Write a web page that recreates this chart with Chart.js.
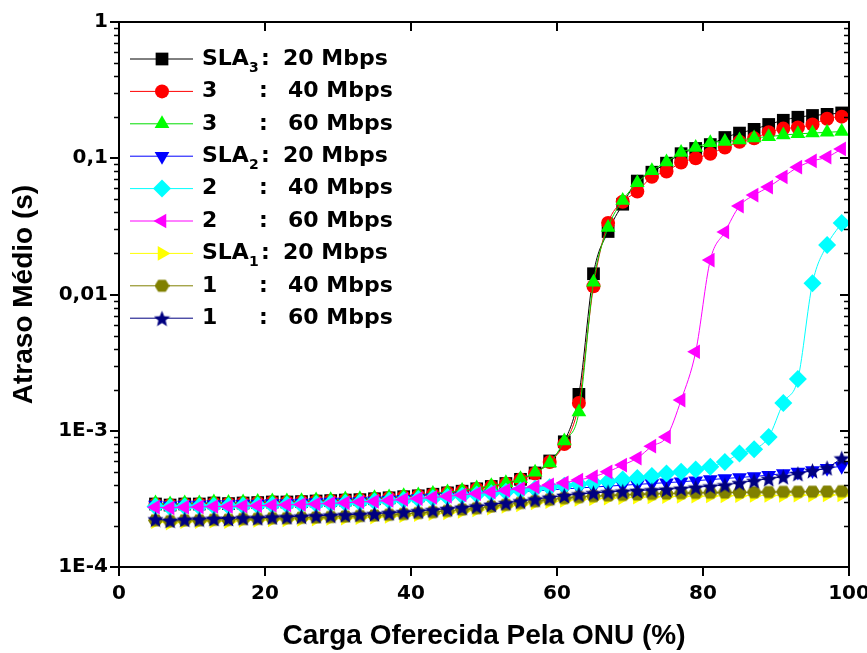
<!DOCTYPE html>
<html>
<head>
<meta charset="utf-8">
<script src="https://cdn.jsdelivr.net/npm/chart.js@4.4.1/dist/chart.umd.min.js"></script>
<style>
  html, body { margin: 0; padding: 0; background: #fff; }
</style>
</head>
<body>
<canvas id="delayChart" width="867" height="653"></canvas>
<script>
/* ---- data ---- */
const loadPct = [5, 7, 9, 11, 13, 15, 17, 19, 21, 23, 25, 27, 29, 31, 33, 35, 37, 39, 41, 43,
                 45, 47, 49, 51, 53, 55, 57, 59, 61, 63, 65, 67, 69, 71, 73, 75, 77, 79, 81, 83,
                 85, 87, 89, 91, 93, 95, 97, 99];

const slaClass = [3, 3, 3, 2, 2, 2, 1, 1, 1];
const rateMbps = [20, 40, 60, 20, 40, 60, 20, 40, 60];

const sla3_20 = [2.90e-4, 2.85e-4, 2.90e-4, 2.90e-4, 2.95e-4, 2.92e-4, 2.95e-4, 2.97e-4, 3.00e-4, 3.00e-4,
                 3.02e-4, 3.05e-4, 3.07e-4, 3.10e-4, 3.12e-4, 3.17e-4, 3.22e-4, 3.28e-4, 3.33e-4, 3.42e-4,
                 3.50e-4, 3.60e-4, 3.75e-4, 3.90e-4, 4.10e-4, 4.40e-4, 4.90e-4, 6.00e-4, 8.30e-4, 1.85e-3,
                 0.0142, 0.029, 0.046, 0.068, 0.079, 0.092, 0.108, 0.118, 0.126, 0.142,
                 0.153, 0.163, 0.177, 0.190, 0.200, 0.206, 0.210, 0.215];
const sla3_40 = [2.88e-4, 2.84e-4, 2.88e-4, 2.89e-4, 2.93e-4, 2.91e-4, 2.94e-4, 2.96e-4, 2.99e-4, 2.99e-4,
                 3.01e-4, 3.04e-4, 3.06e-4, 3.09e-4, 3.11e-4, 3.16e-4, 3.21e-4, 3.27e-4, 3.32e-4, 3.41e-4,
                 3.49e-4, 3.59e-4, 3.74e-4, 3.89e-4, 4.08e-4, 4.38e-4, 4.85e-4, 5.90e-4, 8.00e-4, 1.60e-3,
                 0.0115, 0.0335, 0.048, 0.057, 0.073, 0.080, 0.093, 0.100, 0.108, 0.120,
                 0.132, 0.140, 0.155, 0.165, 0.168, 0.177, 0.195, 0.202];
const sla3_60 = [2.95e-4, 2.90e-4, 2.95e-4, 2.95e-4, 3.00e-4, 2.97e-4, 3.00e-4, 3.02e-4, 3.05e-4, 3.05e-4,
                 3.07e-4, 3.10e-4, 3.12e-4, 3.15e-4, 3.17e-4, 3.22e-4, 3.27e-4, 3.33e-4, 3.38e-4, 3.47e-4,
                 3.55e-4, 3.65e-4, 3.80e-4, 3.95e-4, 4.15e-4, 4.45e-4, 4.95e-4, 5.80e-4, 8.40e-4, 1.37e-3,
                 0.0123, 0.031, 0.049, 0.066, 0.081, 0.094, 0.110, 0.120, 0.130, 0.133,
                 0.136, 0.141, 0.144, 0.148, 0.151, 0.153, 0.155, 0.157];
const sla2_20 = [2.85e-4, 2.82e-4, 2.85e-4, 2.85e-4, 2.88e-4, 2.87e-4, 2.90e-4, 2.90e-4, 2.92e-4, 2.93e-4,
                 2.95e-4, 2.97e-4, 3.00e-4, 3.00e-4, 3.03e-4, 3.06e-4, 3.10e-4, 3.14e-4, 3.18e-4, 3.22e-4,
                 3.27e-4, 3.32e-4, 3.38e-4, 3.44e-4, 3.50e-4, 3.56e-4, 3.62e-4, 3.68e-4, 3.74e-4, 3.80e-4,
                 3.86e-4, 3.92e-4, 3.98e-4, 4.04e-4, 4.10e-4, 4.16e-4, 4.22e-4, 4.30e-4, 4.38e-4, 4.46e-4,
                 4.54e-4, 4.62e-4, 4.72e-4, 4.85e-4, 4.98e-4, 5.10e-4, 5.30e-4, 5.50e-4];
const sla2_40 = [2.78e-4, 2.75e-4, 2.78e-4, 2.78e-4, 2.80e-4, 2.80e-4, 2.82e-4, 2.83e-4, 2.85e-4, 2.86e-4,
                 2.88e-4, 2.90e-4, 2.93e-4, 2.95e-4, 2.98e-4, 3.02e-4, 3.06e-4, 3.10e-4, 3.15e-4, 3.20e-4,
                 3.26e-4, 3.33e-4, 3.40e-4, 3.48e-4, 3.56e-4, 3.65e-4, 3.75e-4, 3.85e-4, 3.95e-4, 4.05e-4,
                 4.15e-4, 4.25e-4, 4.38e-4, 4.50e-4, 4.65e-4, 4.85e-4, 5.00e-4, 5.20e-4, 5.45e-4, 5.90e-4,
                 6.80e-4, 7.30e-4, 9.00e-4, 1.60e-3, 2.40e-3, 0.0121, 0.0231, 0.0335];
const sla2_60 = [2.75e-4, 2.72e-4, 2.75e-4, 2.76e-4, 2.78e-4, 2.78e-4, 2.80e-4, 2.82e-4, 2.84e-4, 2.86e-4,
                 2.88e-4, 2.90e-4, 2.93e-4, 2.96e-4, 3.00e-4, 3.03e-4, 3.08e-4, 3.13e-4, 3.18e-4, 3.24e-4,
                 3.30e-4, 3.38e-4, 3.46e-4, 3.55e-4, 3.65e-4, 3.76e-4, 3.88e-4, 4.00e-4, 4.15e-4, 4.35e-4,
                 4.60e-4, 5.00e-4, 5.60e-4, 6.30e-4, 7.70e-4, 9.00e-4, 1.68e-3, 3.80e-3, 0.0179, 0.0288,
                 0.0446, 0.0537, 0.0615, 0.073, 0.086, 0.0955, 0.102, 0.117];
const sla1_20 = [2.15e-4, 2.10e-4, 2.15e-4, 2.15e-4, 2.17e-4, 2.15e-4, 2.20e-4, 2.20e-4, 2.22e-4, 2.22e-4,
                 2.24e-4, 2.25e-4, 2.27e-4, 2.28e-4, 2.30e-4, 2.32e-4, 2.35e-4, 2.38e-4, 2.42e-4, 2.46e-4,
                 2.50e-4, 2.56e-4, 2.62e-4, 2.70e-4, 2.78e-4, 2.86e-4, 2.95e-4, 3.02e-4, 3.08e-4, 3.13e-4,
                 3.17e-4, 3.20e-4, 3.23e-4, 3.25e-4, 3.27e-4, 3.29e-4, 3.30e-4, 3.31e-4, 3.32e-4, 3.33e-4,
                 3.34e-4, 3.35e-4, 3.35e-4, 3.36e-4, 3.37e-4, 3.37e-4, 3.38e-4, 3.38e-4];
const sla1_40 = [2.20e-4, 2.17e-4, 2.20e-4, 2.20e-4, 2.22e-4, 2.22e-4, 2.25e-4, 2.26e-4, 2.28e-4, 2.28e-4,
                 2.30e-4, 2.31e-4, 2.33e-4, 2.35e-4, 2.37e-4, 2.39e-4, 2.42e-4, 2.45e-4, 2.49e-4, 2.53e-4,
                 2.58e-4, 2.64e-4, 2.70e-4, 2.78e-4, 2.86e-4, 2.95e-4, 3.04e-4, 3.12e-4, 3.20e-4, 3.26e-4,
                 3.31e-4, 3.35e-4, 3.38e-4, 3.41e-4, 3.44e-4, 3.46e-4, 3.48e-4, 3.50e-4, 3.51e-4, 3.52e-4,
                 3.53e-4, 3.54e-4, 3.55e-4, 3.56e-4, 3.57e-4, 3.57e-4, 3.58e-4, 3.60e-4];
const sla1_60 = [2.25e-4, 2.20e-4, 2.24e-4, 2.25e-4, 2.27e-4, 2.27e-4, 2.30e-4, 2.30e-4, 2.33e-4, 2.34e-4,
                 2.36e-4, 2.38e-4, 2.40e-4, 2.42e-4, 2.44e-4, 2.46e-4, 2.50e-4, 2.54e-4, 2.58e-4, 2.63e-4,
                 2.68e-4, 2.74e-4, 2.80e-4, 2.88e-4, 2.96e-4, 3.05e-4, 3.15e-4, 3.25e-4, 3.35e-4, 3.43e-4,
                 3.50e-4, 3.55e-4, 3.60e-4, 3.64e-4, 3.68e-4, 3.72e-4, 3.78e-4, 3.85e-4, 3.92e-4, 4.00e-4,
                 4.15e-4, 4.30e-4, 4.45e-4, 4.60e-4, 4.85e-4, 5.10e-4, 5.35e-4, 6.30e-4];

const xTickValues = [0, 20, 40, 60, 80, 100];
const yTickValues = [1e-4, 1e-3, 0.01, 0.1, 1];
const yTickLabels = ['1E-4', '1E-3', '0,01', '0,1', '1'];

/* ---- look ---- */
const TITLE_FONT = '"Liberation Sans", Arial, sans-serif';
const TEXT_FONT  = '"DejaVu Sans", Verdana, sans-serif';

// filled marker shapes that Chart.js doesn't have
function shapeImage(color, size, drawPath) {
  const c = document.createElement('canvas');
  c.width = size; c.height = size;
  const g = c.getContext('2d');
  g.fillStyle = color;
  g.beginPath();
  drawPath(g, size / 2);
  g.closePath();
  g.fill();
  return c;
}
const hexagon = shapeImage('#808000', 15, (g, r) => {
  for (let k = 0; k < 6; k++) {
    const a = k * Math.PI / 3;
    g.lineTo(r + r * Math.cos(a), r + r * 0.92 * Math.sin(a));
  }
});
const star5 = shapeImage('#000080', 17, (g, r) => {
  for (let k = 0; k < 10; k++) {
    const a = -Math.PI / 2 + k * Math.PI / 5;
    const rr = k % 2 ? r * 0.45 : r;
    g.lineTo(r + rr * Math.cos(a), r + 1 + rr * Math.sin(a));
  }
});

const seriesData = [sla3_20, sla3_40, sla3_60, sla2_20, sla2_40, sla2_60, sla1_20, sla1_40, sla1_60];
const lineColors = ['#000000', '#ff0000', '#00dd00', '#0000ff', '#00ffff', '#ff00ff', '#ffff00', '#808000', '#000080'];
const fillColors = ['#000000', '#ff0000', '#00ff00', '#0000ff', '#00ffff', '#ff00ff', '#ffff00', '#808000', '#000080'];
const markers    = ['rect', 'circle', 'triangle', 'triangle', 'rectRot', 'triangle', 'triangle', hexagon, star5];
const rotations  = [0, 0, 0, 180, 0, -90, 90, 0, 0];
const radii      = [9, 7, 8.5, 8.5, 9, 8.5, 8.5, 7, 8];

const datasets = seriesData.map((vals, i) => ({
  label: `SLA${slaClass[i]}: ${rateMbps[i]} Mbps`,
  data: vals.map((v, k) => ({ x: loadPct[k], y: v })),
  borderColor: lineColors[i],
  borderWidth: 1,
  pointStyle: markers[i],
  pointRotation: rotations[i],
  pointRadius: radii[i],
  pointBackgroundColor: fillColors[i],
  pointBorderColor: fillColors[i],
  pointBorderWidth: 0,
  cubicInterpolationMode: 'monotone',
  order: seriesData.length - i,
}));

// legend drawn inside the plot, with line + marker sample and subscripted SLA
const legendBox = {
  id: 'legendBox',
  afterDraw(chart) {
    const ctx = chart.ctx;
    chart.data.datasets.forEach((ds, i) => {
      const y = 59 + i * 32.4;
      ctx.save();
      ctx.strokeStyle = ds.borderColor;
      ctx.lineWidth = 1;
      ctx.beginPath();
      ctx.moveTo(130, y);
      ctx.lineTo(193, y);
      ctx.stroke();
      ctx.fillStyle = ds.pointBackgroundColor;
      ctx.strokeStyle = ds.pointBorderColor;
      Chart.helpers.drawPoint(ctx, {
        pointStyle: ds.pointStyle, rotation: ds.pointRotation, radius: ds.pointRadius, borderWidth: 0
      }, 162, y);

      ctx.fillStyle = '#000';
      ctx.textBaseline = 'middle';
      ctx.font = `bold 22px ${TEXT_FONT}`;
      const first = i === 0 || slaClass[i] !== slaClass[i - 1];
      if (first) {
        ctx.fillText('SLA', 202, y);
        const w = ctx.measureText('SLA').width;
        ctx.font = `bold 14px ${TEXT_FONT}`;
        ctx.fillText(String(slaClass[i]), 202 + w, y + 9);
        ctx.font = `bold 22px ${TEXT_FONT}`;
        ctx.fillText(':', 261, y);
        ctx.fillText(`${rateMbps[i]} Mbps`, 283, y);
      } else {
        ctx.fillText(String(slaClass[i]), 202, y);
        ctx.fillText(':', 259, y);
        ctx.fillText(`${rateMbps[i]} Mbps`, 288, y);
      }
      ctx.restore();
    });
  }
};

// frame and Origin-style ticks (out on bottom/left, in on top/right)
const frameTicks = {
  id: 'frameTicks',
  afterDraw(chart) {
    const { ctx, chartArea: a, scales: { x, y } } = chart;
    ctx.save();
    ctx.strokeStyle = '#000';
    ctx.lineWidth = 2;
    ctx.strokeRect(a.left, a.top, a.right - a.left, a.bottom - a.top);
    ctx.beginPath();
    xTickValues.forEach(v => {
      const px = Math.round(x.getPixelForValue(v));
      ctx.moveTo(px, a.bottom); ctx.lineTo(px, a.bottom + 9);
      ctx.moveTo(px, a.top); ctx.lineTo(px, a.top + 9);
    });
    yTickValues.forEach(v => {
      const py = Math.round(y.getPixelForValue(v));
      ctx.moveTo(a.left - 9, py); ctx.lineTo(a.left, py);
      ctx.moveTo(a.right, py); ctx.lineTo(a.right - 9, py);
    });
    ctx.stroke();
    ctx.lineWidth = 1.5;
    ctx.beginPath();
    for (let d = 0; d < yTickValues.length - 1; d++) {
      for (let m = 2; m <= 9; m++) {
        const py = Math.round(y.getPixelForValue(yTickValues[d] * m)) + 0.5;
        ctx.moveTo(a.left - 5, py); ctx.lineTo(a.left, py);
        ctx.moveTo(a.right, py); ctx.lineTo(a.right - 5, py);
      }
    }
    ctx.stroke();
    ctx.restore();
  }
};

new Chart(document.getElementById('delayChart'), {
  type: 'line',
  data: { datasets },
  options: {
    responsive: false,
    animation: false,
    devicePixelRatio: 1,
    layout: { padding: { left: 0, right: 18, top: 22, bottom: 0 } },
    plugins: { legend: { display: false }, tooltip: { enabled: false } },
    scales: {
      x: {
        type: 'linear',
        min: 0, max: 100,
        afterBuildTicks: s => { s.ticks = xTickValues.map(v => ({ value: v })); },
        afterFit: s => { s.height = 86; s.paddingLeft = 0; s.paddingRight = 0; },
        grid: { display: false, drawTicks: false },
        border: { display: false },
        ticks: { color: '#000', padding: 15, maxRotation: 0, font: { family: TEXT_FONT, size: 20, weight: 'bold' } },
        title: {
          display: true,
          text: 'Carga Oferecida Pela ONU (%)',
          color: '#000',
          padding: { top: 0, bottom: 0 },
          font: { family: TITLE_FONT, size: 28, weight: 'bold', lineHeight: 1.2 },
        },
      },
      y: {
        type: 'logarithmic',
        min: 1e-4, max: 1,
        afterBuildTicks: s => { s.ticks = yTickValues.map(v => ({ value: v, major: true })); },
        afterFit: s => { s.width = 119; s.paddingTop = 0; s.paddingBottom = 0; },
        grid: { display: false, drawTicks: false },
        border: { display: false },
        ticks: {
          color: '#000', padding: 11, font: { family: TEXT_FONT, size: 20, weight: 'bold' },
          callback: v => yTickLabels[yTickValues.findIndex(t => Math.abs(Math.log10(t) - Math.log10(v)) < 1e-6)] ?? '',
        },
        title: {
          display: true,
          text: 'Atraso Médio (s)',
          color: '#000',
          padding: { top: 7, bottom: 0 },
          font: { family: TITLE_FONT, size: 28, weight: 'bold', lineHeight: 1.2 },
        },
      },
    },
  },
  plugins: [frameTicks, legendBox],
});
</script>
</body>
</html>
